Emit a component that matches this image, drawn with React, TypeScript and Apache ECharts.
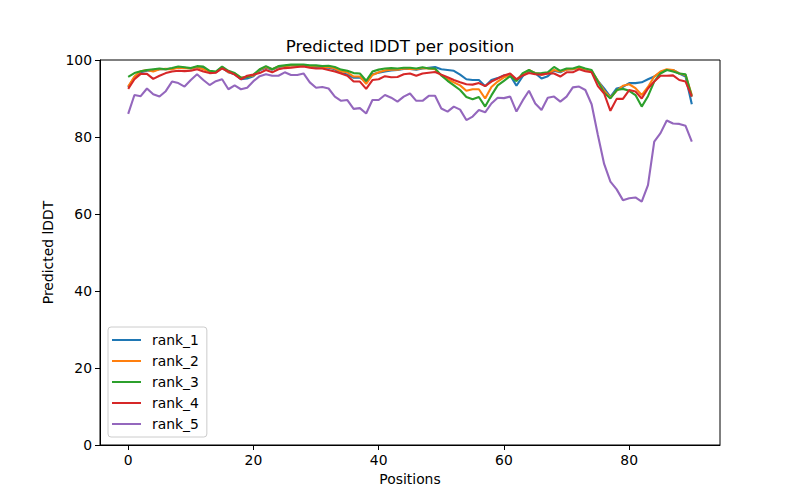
import React, { useEffect, useRef } from "react";
import * as echarts from "echarts";

const positions: number[] = Array.from({ length: 91 }, (_, i) => i);

const rank1 = [
  93.0, 95.5, 96.8, 97.2, 97.2, 97.6, 97.6, 97.8, 98.1, 98.0,
  97.8, 98.2, 98.0, 97.0, 96.8, 98.0, 96.8, 96.3, 95.0, 95.2,
  95.8, 97.3, 98.0, 97.5, 98.2, 98.4, 98.6, 98.6, 98.6, 98.3,
  98.2, 98.0, 98.0, 97.6, 96.6, 96.2, 95.4, 95.4, 94.4, 96.3,
  96.7, 97.0, 97.3, 97.4, 97.7, 97.7, 97.5, 97.8, 98.0, 98.2,
  97.6, 97.4, 97.2, 96.2, 95.0, 94.8, 94.8, 93.2, 94.8, 95.3,
  96.0, 96.0, 93.3, 95.8, 97.2, 96.6, 95.2, 95.8, 97.2, 96.8,
  97.6, 97.6, 98.0, 97.6, 97.0, 94.6, 92.6, 90.4, 92.6, 93.0,
  94.0, 94.0, 94.2, 95.0, 95.7, 96.8, 97.4, 97.4, 96.5, 95.7,
  88.5,
];
const rank2 = [
  93.1, 95.7, 97.1, 97.4, 97.0, 97.6, 97.7, 97.6, 98.0, 97.9,
  97.8, 98.2, 97.6, 97.0, 96.8, 98.2, 96.8, 96.5, 95.4, 95.6,
  96.0, 97.5, 98.2, 97.6, 98.3, 98.4, 98.6, 98.6, 98.6, 98.4,
  98.4, 98.2, 98.2, 97.8, 97.0, 96.8, 95.7, 95.7, 93.8, 96.1,
  96.8, 97.3, 97.5, 97.5, 97.8, 97.7, 97.6, 97.9, 97.8, 97.6,
  96.0, 95.0, 94.2, 93.4, 92.0, 92.4, 92.4, 90.0, 93.0, 94.4,
  95.5, 96.0, 94.8, 96.2, 97.4, 96.6, 96.2, 96.5, 97.4, 97.0,
  97.5, 97.6, 98.0, 97.6, 97.2, 94.6, 92.0, 90.2, 92.0, 93.3,
  93.7, 92.7, 90.9, 93.0, 95.7, 97.0, 97.6, 97.4, 96.5, 96.1,
  90.9,
];
const rank3 = [
  95.6, 96.6, 97.1, 97.4, 97.6, 97.8, 97.6, 97.9, 98.3, 98.1,
  97.9, 98.4, 98.3, 97.2, 97.0, 98.3, 97.2, 96.6, 95.4, 95.6,
  96.2, 97.6, 98.4, 97.6, 98.4, 98.6, 98.8, 98.8, 98.8, 98.6,
  98.6, 98.4, 98.5, 98.2, 97.5, 97.2, 96.6, 96.5, 94.6, 97.0,
  97.5, 97.8, 97.9, 97.8, 98.0, 98.0, 97.8, 98.1, 97.8, 97.8,
  96.0, 94.6, 93.4, 92.2, 90.4, 89.8, 90.4, 87.9, 90.8, 93.4,
  94.6, 95.8, 94.5, 96.6, 97.4, 96.5, 96.6, 96.8, 98.2, 97.2,
  97.8, 97.8, 98.3, 97.8, 97.4, 94.4, 91.5, 90.0, 92.2, 92.5,
  92.0, 90.9, 87.9, 90.6, 94.4, 96.5, 97.4, 97.0, 96.5, 96.3,
  90.5,
];
const rank4 = [
  92.5, 95.0, 96.4, 96.4, 95.1, 95.9, 96.6, 97.0, 97.2, 97.1,
  97.2, 97.6, 97.0, 96.6, 96.7, 97.8, 97.0, 96.2, 95.0, 95.9,
  96.2, 96.6, 97.4, 96.8, 97.6, 97.9, 98.0, 98.2, 98.3, 98.0,
  97.8, 97.8, 97.4, 97.0, 96.5, 95.9, 94.4, 94.4, 92.5, 94.8,
  95.0, 95.8, 95.5, 95.6, 96.3, 96.5, 95.9, 96.5, 96.7, 96.9,
  96.2, 95.5, 94.8, 94.2, 93.7, 93.6, 94.0, 93.2, 94.4, 95.2,
  96.0, 96.5, 95.0, 96.0, 96.6, 96.3, 96.2, 96.5, 96.5, 95.7,
  96.8, 96.8, 97.6, 97.1, 96.8, 93.2, 91.3, 86.8, 89.9, 89.9,
  92.2, 91.8, 90.0, 92.6, 94.4, 95.9, 95.9, 96.0, 94.8, 94.4,
  90.5,
];
const rank5 = [
  86.0, 90.9, 90.6, 92.6, 91.1, 90.5, 91.9, 94.4, 94.0, 93.1,
  94.8, 96.3, 94.8, 93.5, 94.5, 95.0, 92.4, 93.4, 92.4, 92.8,
  94.5, 95.8, 96.3, 95.9, 95.9, 96.8, 96.1, 96.1, 96.5, 94.2,
  92.8, 93.0, 92.6, 90.5, 89.4, 89.6, 87.3, 87.5, 86.1, 89.6,
  89.6, 90.9, 90.2, 89.2, 90.5, 91.3, 89.4, 89.4, 90.7, 90.7,
  87.4, 86.6, 87.9, 87.1, 84.4, 85.3, 87.0, 86.4, 88.7, 90.2,
  90.1, 90.5, 86.6, 89.5, 92.0, 88.7, 87.0, 90.2, 90.5, 89.2,
  90.5, 92.9, 93.1, 92.2, 88.5, 80.5, 73.0, 68.4, 66.4, 63.6,
  64.1, 64.3, 63.2, 67.5, 78.8, 81.0, 84.3, 83.5, 83.4, 82.9,
  78.8,
];

const seriesNames = ["rank_1", "rank_2", "rank_3", "rank_4", "rank_5"];
const seriesValues = [rank1, rank2, rank3, rank4, rank5];
const colors = ["#1f77b4", "#ff7f0e", "#2ca02c", "#d62728", "#9467bd"];
const xTicks = [0, 20, 40, 60, 80];

const FONT = "DejaVu Sans";

export default function App() {
  const ref = useRef<HTMLDivElement>(null);
  useEffect(() => {
    if (!ref.current) return;
    const chart = echarts.init(ref.current, null, { renderer: "svg" });
    chart.setOption({
      animation: false,
      backgroundColor: "#ffffff",
      color: colors,
      title: {
        text: "Predicted lDDT per position",
        left: "center",
        top: 37,
        padding: 0,
        textStyle: { fontFamily: FONT, fontSize: 16.7, fontWeight: "normal", color: "#000" },
      },
      grid: {
        left: 100,
        right: 80,
        top: 60,
        bottom: 55,
        show: true,
        borderColor: "#000",
        borderWidth: 1,
        backgroundColor: "transparent",
      },
      legend: {
        orient: "vertical",
        left: 108,
        top: 327,
        icon: "rect",
        itemWidth: 29,
        itemHeight: 2,
        itemGap: 7,
        padding: [6, 8, 6, 4],
        backgroundColor: "rgba(255,255,255,0.8)",
        borderColor: "#cccccc",
        borderWidth: 1,
        borderRadius: 3,
        data: seriesNames,
        textStyle: { fontFamily: FONT, fontSize: 13.9, color: "#000", padding: [0, 0, 0, 6] },
      },
      xAxis: {
        type: "value",
        min: -4.5,
        max: 94.5,
        name: "Positions",
        nameLocation: "middle",
        nameGap: 27,
        nameTextStyle: { fontFamily: FONT, fontSize: 13.9, color: "#000" },
        axisLine: { show: true, onZero: false, lineStyle: { color: "#000", width: 1 } },
        axisTick: { show: true, inside: false, length: 5, customValues: xTicks, lineStyle: { color: "#000" } },
        axisLabel: { customValues: xTicks, fontFamily: FONT, fontSize: 13.9, color: "#000", margin: 8 },
        splitLine: { show: false },
      },
      yAxis: {
        type: "value",
        min: 0,
        max: 100,
        interval: 20,
        name: "Predicted lDDT",
        nameLocation: "middle",
        nameGap: 40,
        nameRotate: 90,
        nameTextStyle: { fontFamily: FONT, fontSize: 13.9, color: "#000" },
        axisLine: { show: true, onZero: false, lineStyle: { color: "#000", width: 1 } },
        axisTick: { show: true, inside: false, length: 5, lineStyle: { color: "#000" } },
        axisLabel: { fontFamily: FONT, fontSize: 13.9, color: "#000", margin: 8 },
        splitLine: { show: false },
      },
      series: seriesNames.map((name, k) => ({
        name,
        type: "line",
        data: positions.map((p, i) => [p, seriesValues[k][i]]),
        symbol: "none",
        showSymbol: false,
        lineStyle: { width: 2.1, color: colors[k] },
        itemStyle: { color: colors[k] },
        z: 2 + k,
      })),
    });
    return () => chart.dispose();
  }, []);
  return <div ref={ref} style={{ width: 800, height: 500, marginLeft: -8, marginTop: -8 }} />;
}
